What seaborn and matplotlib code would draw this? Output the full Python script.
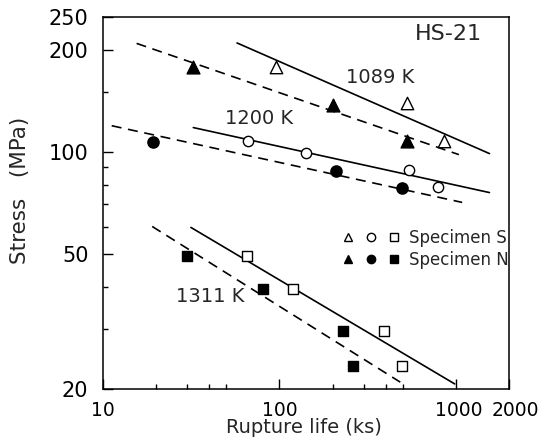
import matplotlib
matplotlib.use("Agg")
import matplotlib.pyplot as plt
import matplotlib.transforms as mtransforms
import seaborn as sns
from matplotlib.ticker import FixedLocator, FixedFormatter, NullFormatter
from matplotlib.lines import Line2D
from matplotlib.legend_handler import HandlerTuple

# rupture life (ks) / stress (MPa), specimen S = open, specimen N = filled
life_1089_S = [95, 525, 860]
stress_1089_S = [178, 139, 108]
life_1089_N = [32.5, 200, 525]
stress_1089_N = [178, 138, 108]

life_1200_S = [66, 142, 540, 792]
stress_1200_S = [108, 99.5, 88.7, 79]
life_1200_N = [19.3, 208, 497]
stress_1200_N = [107, 88, 78.5]

life_1311_S = [65.5, 119, 392, 495]
stress_1311_S = [49.5, 39.4, 29.6, 23.4]
life_1311_N = [30, 81, 229, 261]
stress_1311_N = [49.2, 39.4, 29.6, 23.4]

# fitted lines (end points)
fit_life_1089_S = [57.5, 1550]
fit_stress_1089_S = [209.6, 98.9]
fit_life_1089_N = [15.5, 1040]
fit_stress_1089_N = [209, 98.2]
fit_life_1200_S = [32.5, 1550]
fit_stress_1200_S = [118, 75.9]
fit_life_1200_N = [11.2, 1085]
fit_stress_1200_N = [119.5, 71]
fit_life_1311_S = [31.5, 985]
fit_stress_1311_S = [59.9, 20.7]
fit_life_1311_N = [19, 484]
fit_stress_1311_N = [60.3, 20.95]

x_major = [10, 100, 1000, 2000]
x_major_labels = ['10', '100', '1000', '2000']
x_minor = [20, 30, 40, 50, 200, 300, 400, 500]
y_major = [20, 50, 100, 200, 250]
y_major_labels = ['20', '50', '100', '200', '250']
y_minor = [30, 40, 60, 70, 80, 90, 150]

sns.set_style('white')
plt.rcParams['font.family'] = ['DejaVu Sans']

fig = plt.figure(figsize=(5.44, 4.47), dpi=100)
ax = fig.add_axes([103 / 544, 58 / 447, 406 / 544, 372 / 447])
ax.set_xscale('log')
ax.set_yscale('log')

dash = (0, (6, 4))
for lx, ly, ls in [(fit_life_1089_S, fit_stress_1089_S, '-'),
                   (fit_life_1089_N, fit_stress_1089_N, dash),
                   (fit_life_1200_S, fit_stress_1200_S, '-'),
                   (fit_life_1200_N, fit_stress_1200_N, dash),
                   (fit_life_1311_S, fit_stress_1311_S, '-'),
                   (fit_life_1311_N, fit_stress_1311_N, dash)]:
    sns.lineplot(x=lx, y=ly, color='black', linewidth=1.2, linestyle=ls,
                 estimator=None, sort=False, ax=ax)

pts = [(life_1089_S, stress_1089_S, '^', 'white', 80),
       (life_1089_N, stress_1089_N, '^', 'black', 85),
       (life_1200_S, stress_1200_S, 'o', 'white', 55),
       (life_1200_N, stress_1200_N, 'o', 'black', 65),
       (life_1311_S, stress_1311_S, 's', 'white', 58),
       (life_1311_N, stress_1311_N, 's', 'black', 62)]
for px, py, m, fc, s in pts:
    sns.scatterplot(x=px, y=py, marker=m, s=s, facecolor=fc, edgecolor='black',
                    linewidth=1.0, ax=ax, zorder=3)

ax.set_xlim(10, 2000)
ax.set_ylim(20, 250)

ax.xaxis.set_major_locator(FixedLocator(x_major))
ax.xaxis.set_major_formatter(FixedFormatter(x_major_labels))
ax.xaxis.set_minor_locator(FixedLocator(x_minor))
ax.xaxis.set_minor_formatter(NullFormatter())
ax.yaxis.set_major_locator(FixedLocator(y_major))
ax.yaxis.set_major_formatter(FixedFormatter(y_major_labels))
ax.yaxis.set_minor_locator(FixedLocator(y_minor))
ax.yaxis.set_minor_formatter(NullFormatter())

ax.tick_params(which='both', direction='in', left=True, bottom=True,
               top=False, right=False, width=1.0, colors='black')
ax.tick_params(which='major', length=7)
ax.tick_params(which='minor', length=3.6)
ax.tick_params(axis='x', which='major', labelsize=13.5, pad=8.5)
ax.tick_params(axis='y', which='major', labelsize=15, pad=10.5)
for sp in ax.spines.values():
    sp.set_color('black')
    sp.set_linewidth(1.1)

# nudge the crowded right-hand tick labels apart a little
fig.canvas.draw()
for lab, dx in zip(ax.get_xticklabels()[2:], [3, 6]):
    lab.set_transform(lab.get_transform() +
                      mtransforms.ScaledTranslation(dx / 100, 0, fig.dpi_scale_trans))

ax.set_xlabel('Rupture life (ks)', fontsize=14)
ax.set_ylabel('Stress   (MPa)', fontsize=15.5)
ax.xaxis.set_label_coords(0.494, -0.078)
ax.yaxis.set_label_coords(-0.18, 0.535)

ax.text(0.852, 0.954, 'HS-21', transform=ax.transAxes, fontsize=16,
        ha='center', va='center')
ax.text(372, 165.5, '1089 K', fontsize=14, ha='center', va='center')
ax.text(76.8, 125.4, '1200 K', fontsize=14, ha='center', va='center')
ax.text(40.4, 37.6, '1311 K', fontsize=14, ha='center', va='center')


def mk(m, fc):
    return Line2D([], [], marker=m, linestyle='', markerfacecolor=fc,
                  markeredgecolor='black', markersize=6, markeredgewidth=1.0)


handles = [(mk('^', 'white'), mk('o', 'white'), mk('s', 'white')),
           (mk('^', 'black'), mk('o', 'black'), mk('s', 'black'))]
ax.legend(handles, ['Specimen S', 'Specimen N'],
          handler_map={tuple: HandlerTuple(ndivide=None, pad=0)},
          loc='upper left', bbox_to_anchor=(0.574, 0.43), frameon=False,
          fontsize=12, handlelength=4.2, handletextpad=0.15, labelspacing=0.25,
          borderaxespad=0, borderpad=0)

fig.savefig('out.png', dpi=100)
